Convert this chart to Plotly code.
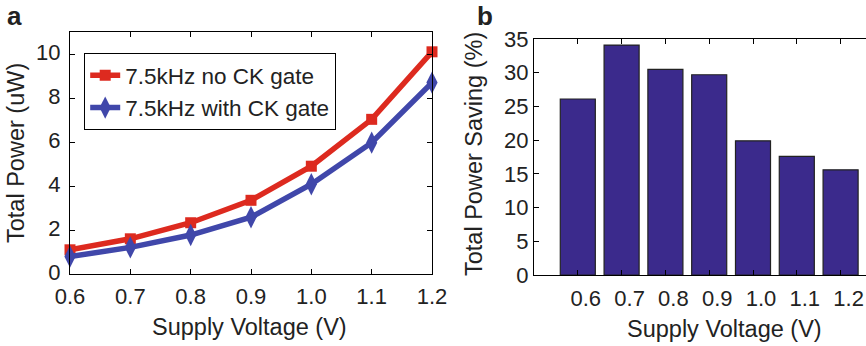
import plotly.graph_objects as go

voltage = [0.6, 0.7, 0.8, 0.9, 1.0, 1.1, 1.2]
power_no_gate = [1.1, 1.6, 2.33, 3.35, 4.9, 7.03, 10.1]
power_with_gate = [0.79, 1.21, 1.77, 2.58, 4.08, 5.97, 8.7]
saving_pct = [26.1, 34.1, 30.5, 29.7, 19.9, 17.6, 15.6]
bar_pos = [1, 2, 3, 4, 5, 6, 7]
bar_labels = ["0.6", "0.7", "0.8", "0.9", "1.0", "1.1", "1.2"]

RED = "#dd2a1f"
BLUE = "#4047aa"
BAR = "#3b2a8c"
FONT = "Liberation Sans, Arial, sans-serif"
FS = 22
TS = 23.5
W, H = 866, 346

fig = go.Figure()
fig.add_trace(go.Scatter(
    x=voltage, y=power_no_gate, mode="lines+markers", name="7.5kHz no CK gate",
    line=dict(color=RED, width=5.5), marker=dict(symbol="square", size=11, color=RED),
    cliponaxis=False, xaxis="x", yaxis="y"))
fig.add_trace(go.Scatter(
    x=voltage, y=power_with_gate, mode="lines+markers", name="7.5kHz with CK gate",
    line=dict(color=BLUE, width=5.5), marker=dict(symbol="diamond-tall", size=16, color=BLUE),
    cliponaxis=False, xaxis="x", yaxis="y"))
fig.add_trace(go.Bar(
    x=bar_pos, y=saving_pct, width=0.8, marker=dict(color=BAR, line=dict(color="#222222", width=1.2)),
    showlegend=False, xaxis="x2", yaxis="y2"))

axcommon = dict(showgrid=False, zeroline=False, showline=True, linecolor="black", linewidth=1.2,
                ticks="inside", ticklen=5, tickwidth=1.2, tickcolor="black", automargin=False,
                tickfont=dict(family=FONT, size=FS, color="#222"))

def ann(text, x, y, angle=0, size=TS, bold=False):
    return dict(text=f"<b>{text}</b>" if bold else text, x=x / W, y=1 - y / H, xref="paper", yref="paper",
                xanchor="center", yanchor="middle", showarrow=False, textangle=angle,
                font=dict(family=FONT, size=size, color="#222"))

fig.update_layout(
    width=W, height=H, margin=dict(l=0, r=0, t=0, b=0),
    paper_bgcolor="white", plot_bgcolor="white",
    font=dict(family=FONT, size=FS, color="#222"),
    xaxis=dict(domain=[70/W, 432/W], range=[0.6, 1.2], tickvals=voltage, tickformat=".1f",
               mirror="allticks", anchor="y", ticklabelstandoff=2, **axcommon),
    yaxis=dict(domain=[72/H, 314/H], range=[0, 11], tickvals=[0, 2, 4, 6, 8, 10],
               mirror="allticks", anchor="x", ticklabelstandoff=4, ticklabelshift=-2, **axcommon),
    xaxis2=dict(domain=[534/W, 1.0], range=[0, 7.58], tickvals=bar_pos, ticktext=bar_labels,
                mirror="allticks", anchor="y2", ticklabelstandoff=3, ticklabelshift=8, **axcommon),
    yaxis2=dict(domain=[71/H, 307/H], range=[0, 35], tickvals=[0, 5, 10, 15, 20, 25, 30, 35],
                mirror=False, anchor="x2", ticklabelstandoff=0, **axcommon),
    legend=dict(x=84/W, y=1 - 53/H, xanchor="left", yanchor="top",
                bgcolor="white", bordercolor="black", borderwidth=1.2,
                font=dict(family=FONT, size=22.5, color="#222"), itemwidth=30,
                tracegroupgap=0),
    annotations=[
        ann("a", 15, 16, size=26, bold=True),
        ann("b", 485, 16, size=26, bold=True),
        ann("Supply Voltage (V)", 250, 327),
        ann("Total Power (uW)", 16, 153, angle=-90),
        ann("Supply Voltage (V)", 724, 329),
        ann("Total Power Saving (%)", 474, 154, angle=-90),
    ],
)
fig.update_xaxes(layer="above traces")
fig.write_html("out.html")
